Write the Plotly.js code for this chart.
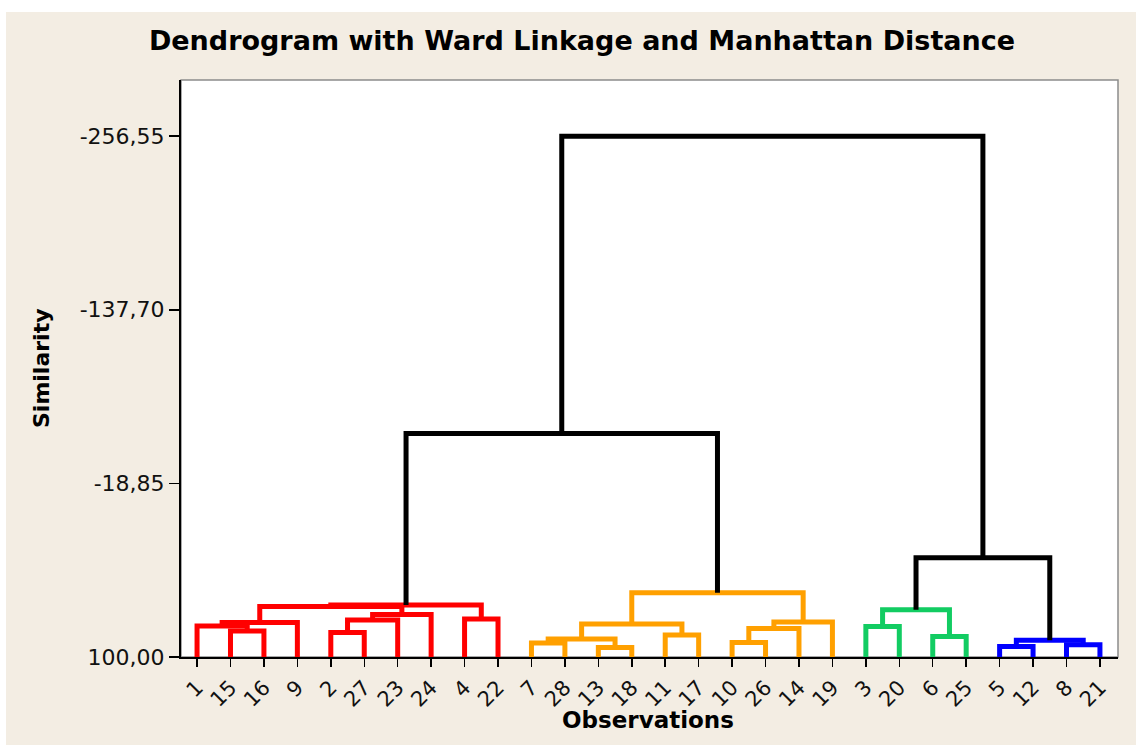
<!DOCTYPE html>
<html>
<head>
<meta charset="utf-8">
<script src="https://cdn.plot.ly/plotly-3.0.1.min.js"></script>
<style>html,body{margin:0;padding:0;background:#fff;}#chart{width:1136px;height:745px;}</style>
</head>
<body>
<div id="chart"></div>
<script>
// Leaf order along the x axis (observation numbers)
var leafLabels = ['1','15','16','9','2','27','23','24','4','22','7','28','13','18','11','17','10','26','14','19','3','20','6','25','5','12','8','21'];

// Linkage steps: left child, right child, similarity level at merge, cluster colour group
var mergeIds    = ['c1','c2','c3','c4','c5','c6','c7','c8','c9','c10','c11','c12','c13','c14','c15','c16','c17','c18','c19','c20','c21','c22','c23','c24','c25','c26','c27'];
var mergeLeft   = ['15','1','c2','2','c4','c5','4','c3','c8','7','13','c10','11','c12','10','c15','c16','c14','3','6','c19','5','8','c22','c9','c21','c25'];
var mergeRight  = ['16','c1','9','27','23','24','22','c6','c7','28','18','c11','17','c13','26','14','19','c17','20','25','c20','12','21','c23','c18','c24','c26'];
var mergeLevel  = [82.2,78.8,76.4,83.2,74.6,70.9,74.0,65.4,64.4,90.5,93.5,87.7,84.9,77.4,90.1,80.5,76.0,56.1,79.1,85.9,67.6,92.8,91.6,88.6,-53.0,32.1,-256.55];
var mergeGroup  = ['red','red','red','red','red','red','red','red','red','orange','orange','orange','orange','orange','orange','orange','orange','orange','green','green','green','blue','blue','blue','black','black','black'];

// Y axis ticks
var yTickVals = [100, -18.85, -137.70, -256.55];
var yTickText = ['100,00', '-18,85', '-137,70', '-256,55'];

var groupColors = {red:'#FF0000', orange:'#FFA000', green:'#12CC62', blue:'#0000FF', black:'#000000'};

// positions of nodes
var pos = {};
leafLabels.forEach(function(l,i){ pos[l] = {x:i, y:100}; });
var segs = {red:{x:[],y:[]}, orange:{x:[],y:[]}, green:{x:[],y:[]}, blue:{x:[],y:[]}, black:{x:[],y:[]}};
mergeIds.forEach(function(id,k){
  var a = pos[mergeLeft[k]], b = pos[mergeRight[k]], h = mergeLevel[k];
  var s = segs[mergeGroup[k]];
  s.x.push(a.x, a.x, b.x, b.x, null);
  s.y.push(a.y, h, h, b.y, null);
  pos[id] = {x:(a.x+b.x)/2, y:h};
});

var traces = ['red','orange','green','blue','black'].map(function(g){
  return {type:'scatter', mode:'lines', x:segs[g].x, y:segs[g].y, connectgaps:false,
    line:{color:groupColors[g], width:5, shape:'linear'}, hoverinfo:'skip', showlegend:false};
});

var L=181, R=18, T=80, B=88, W=1136, H=745;
var pw = W-L-R, ph = H-T-B;
function px(X){ return (X-L)/pw; }
function py(Y){ return (H-B-Y)/ph; }

var layout = {
  width:W, height:H,
  margin:{l:L, r:R, t:T, b:B, pad:0},
  paper_bgcolor:'#F3EDE3',
  plot_bgcolor:'#FFFFFF',
  showlegend:false,
  title:{text:'Dendrogram with Ward Linkage and Manhattan Distance',
    font:{family:'DejaVu Sans', size:27, color:'#000', weight:'bold'},
    xref:'container', x:582/W, xanchor:'center', yref:'container', y:1-41/H, yanchor:'middle'},
  xaxis:{range:[-0.48, 27.54], tickmode:'array', tickvals:leafLabels.map(function(l,i){return i;}), ticktext:leafLabels,
    tickangle:-45, ticks:'outside', ticklen:8, tickwidth:1.5, tickcolor:'#000',
    showline:true, linecolor:'#000', linewidth:2, showgrid:false, zeroline:false, fixedrange:true,
    tickfont:{family:'DejaVu Sans', size:21, color:'#111'}},
  yaxis:{range:[100, -295.0], tickmode:'array', tickvals:yTickVals, ticktext:yTickText,
    ticks:'outside', ticklen:10, tickwidth:1.5, tickcolor:'#000',
    showline:true, linecolor:'#000', linewidth:2, showgrid:false, zeroline:false, fixedrange:true,
    tickfont:{family:'DejaVu Sans', size:22, color:'#111'}},
  annotations:[
    {text:'Observations', xref:'paper', yref:'paper', x:px(648), y:py(720), xanchor:'center', yanchor:'middle', showarrow:false,
     font:{family:'DejaVu Sans', size:23, color:'#000', weight:'bold'}},
    {text:'Similarity', xref:'paper', yref:'paper', x:px(41), y:py(368), xanchor:'center', yanchor:'middle', textangle:-90, showarrow:false,
     font:{family:'DejaVu Sans', size:22, color:'#000', weight:'bold'}}
  ],
  shapes:[
    {type:'rect', xref:'paper', yref:'paper', x0:0, x1:1, y0:0, y1:1, line:{color:'#8c8c8c', width:1.5}, layer:'below'},
    {type:'rect', xref:'paper', yref:'paper', x0:px(0), x1:px(W), y0:py(12), y1:py(0), fillcolor:'#FFFFFF', line:{width:0}},
    {type:'rect', xref:'paper', yref:'paper', x0:px(0), x1:px(6), y0:py(H), y1:py(0), fillcolor:'#FFFFFF', line:{width:0}}
  ]
};

Plotly.newPlot('chart', traces, layout, {displayModeBar:false, staticPlot:true});
</script>
</body>
</html>
